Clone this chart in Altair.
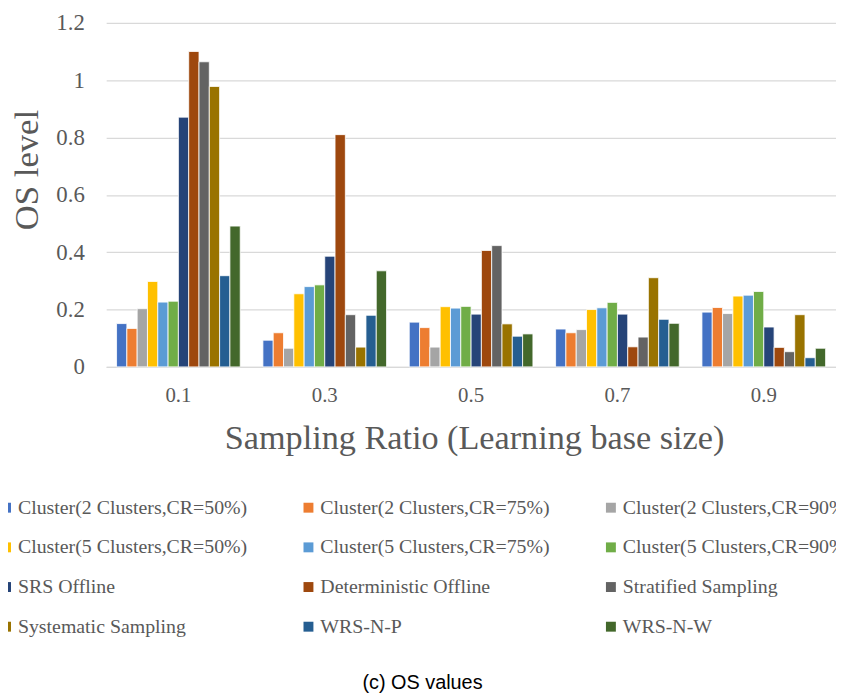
import altair as alt
import pandas as pd

ratios = ["0.1", "0.3", "0.5", "0.7", "0.9"]

series = [
    "Cluster(2 Clusters,CR=50%)",
    "Cluster(2 Clusters,CR=75%)",
    "Cluster(2 Clusters,CR=90%)",
    "Cluster(5 Clusters,CR=50%)",
    "Cluster(5 Clusters,CR=75%)",
    "Cluster(5 Clusters,CR=90%)",
    "SRS Offline",
    "Deterministic  Offline",
    "Stratified Sampling",
    "Systematic Sampling",
    "WRS-N-P",
    "WRS-N-W",
]

colors = [
    "#4472C4", "#ED7D31", "#A5A5A5", "#FFC000", "#5B9BD5", "#70AD47",
    "#264478", "#9E480E", "#636363", "#997300", "#255E91", "#43682B",
]

c2_50 = [0.151, 0.093, 0.156, 0.132, 0.191]
c2_75 = [0.134, 0.119, 0.137, 0.119, 0.207]
c2_90 = [0.203, 0.065, 0.069, 0.130, 0.186]
c5_50 = [0.298, 0.255, 0.210, 0.200, 0.247]
c5_75 = [0.226, 0.280, 0.205, 0.206, 0.250]
c5_90 = [0.229, 0.286, 0.211, 0.225, 0.263]
srs_offline = [0.871, 0.386, 0.184, 0.184, 0.139]
det_offline = [1.100, 0.810, 0.406, 0.070, 0.068]
stratified = [1.064, 0.182, 0.423, 0.104, 0.053]
systematic = [0.978, 0.069, 0.150, 0.311, 0.182]
wrs_n_p = [0.318, 0.180, 0.107, 0.166, 0.032]
wrs_n_w = [0.491, 0.335, 0.115, 0.152, 0.065]

all_values = [c2_50, c2_75, c2_90, c5_50, c5_75, c5_90,
              srs_offline, det_offline, stratified, systematic, wrs_n_p, wrs_n_w]

y_ticks = [0, 0.2, 0.4, 0.6, 0.8, 1, 1.2]

rows = []
for s, vals in zip(series, all_values):
    for r, v in zip(ratios, vals):
        rows.append({"ratio": r, "series": s, "value": v})
df = pd.DataFrame(rows)

SERIF = "Liberation Serif"
GRAY = "#595959"

chart = alt.Chart(df).mark_bar(stroke="white", strokeWidth=0.8).encode(
    x=alt.X(
        "ratio:N", sort=ratios,
        scale=alt.Scale(paddingInner=0.155, paddingOuter=0.071),
        axis=alt.Axis(
            title="Sampling Ratio (Learning base size)",
            labelAngle=0, ticks=False, grid=False,
            domainColor="#d9d9d9", domainWidth=1.3,
            labelFont=SERIF, labelFontSize=21, labelColor=GRAY, labelPadding=18,
            titleFont=SERIF, titleFontSize=34.5, titleFontWeight="normal", titleColor=GRAY,
            titleX=371, titleY=82, titleAlign="center", titleBaseline="alphabetic",
        ),
    ),
    xOffset=alt.XOffset("series:N", sort=series,
                        scale=alt.Scale(paddingInner=0, paddingOuter=0)),
    y=alt.Y(
        "value:Q",
        scale=alt.Scale(domain=[0, 1.2], nice=False),
        axis=alt.Axis(
            title="OS level", values=y_ticks, format="~g",
            ticks=False, domain=False,
            gridColor="#d9d9d9", gridWidth=1.3,
            labelFont=SERIF, labelFontSize=23, labelColor=GRAY, labelPadding=22,
            titleFont=SERIF, titleFontSize=35, titleFontWeight="normal", titleColor=GRAY,
            titleX=-69, titleY=148, titleAlign="center", titleBaseline="alphabetic",
        ),
    ),
    color=alt.Color(
        "series:N", sort=series,
        scale=alt.Scale(domain=series, range=colors),
        legend=alt.Legend(
            title=None, orient="none", legendX=-111, legendY=479,
            direction="horizontal", columns=3, gridAlign="all",
            columnPadding=51, rowPadding=20, padding=0,
            symbolType="square", symbolSize=100, symbolStrokeWidth=0,
            labelFont=SERIF, labelFontSize=20, labelColor=GRAY,
            labelLimit=400, labelOffset=2,
        ),
    ),
).properties(
    width=736,
    height=347,
    autosize=alt.AutoSizeParams(type="none"),
    padding={"left": 99, "top": 12, "right": 0, "bottom": 332},
    title=alt.Title(
        "(c) OS values", orient="bottom", anchor="middle",
        font="Liberation Sans", fontSize=20, fontWeight="normal", color="black",
        dx=-49, offset=37,
    ),
).configure_view(stroke=None)

chart.save("out.html", embed_options={"renderer": "svg", "actions": False})
